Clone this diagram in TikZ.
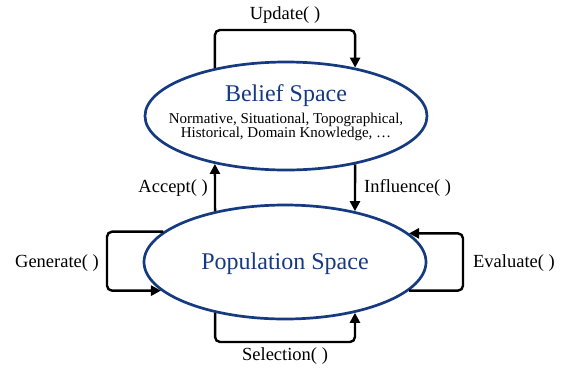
\documentclass[tikz,border=0pt]{standalone}
\usepackage{fontspec}
\setmainfont{Liberation Serif}
\usetikzlibrary{arrows.meta,shapes.geometric}
\definecolor{navy}{RGB}{22,58,128}
\begin{document}
\begin{tikzpicture}[x=1pt,y=-1pt,
  space/.style={draw=navy,line width=2.7pt,ellipse,inner sep=0pt},
  title/.style={text=navy,font=\fontsize{24}{26}\selectfont,inner sep=0pt},
  sub/.style={font=\fontsize{15}{14}\selectfont,align=center,inner sep=0pt},
  lab/.style={font=\fontsize{18.5}{20}\selectfont,inner sep=0pt},
  conn/.style={draw=black,line width=2.4pt,rounded corners=5pt,-{Triangle[length=10pt,width=10pt]}}]
\useasboundingbox (0,0) rectangle (569,373);
\node[space,minimum width=282pt,minimum height=108pt] (belief) at (286,116) {};
\node[space,minimum width=282pt,minimum height=114pt] (pop) at (285,262) {};
\node[title] (bt) at (286,96) {Belief Space};
\node[sub] (bs) at (286,127) {Normative, Situational, Topographical,\\Historical, Domain Knowledge, \dots};
\node[title] (pt) at (285,264) {Population Space};
% connectors
\draw[conn] (belief.146) |- (285,30) -| (belief.35);
\draw[conn] (pop.144) -- (belief.214);
\draw[conn] (belief.-35.6) -- (pop.36.3);
\draw[conn] (pop.166.5) -| (107,262) |- (pop.193.5);
\draw[conn] (pop.-13.5) -| (463,262) |- (pop.13.5);
\draw[conn] (pop.-144) |- (285,342) -| (pop.-36.3);
% labels
\node[lab] (lu) at (285,15) {Update( )};
\node[lab,anchor=east] (la) at (208,188) {Accept( )};
\node[lab,anchor=west] (li) at (364,188) {Influence( )};
\node[lab] (lg) at (57,263) {Generate( )};
\node[lab] (le) at (514,263) {Evaluate( )};
\node[lab] (ls) at (285,356) {Selection( )};
\end{tikzpicture}
\end{document}
